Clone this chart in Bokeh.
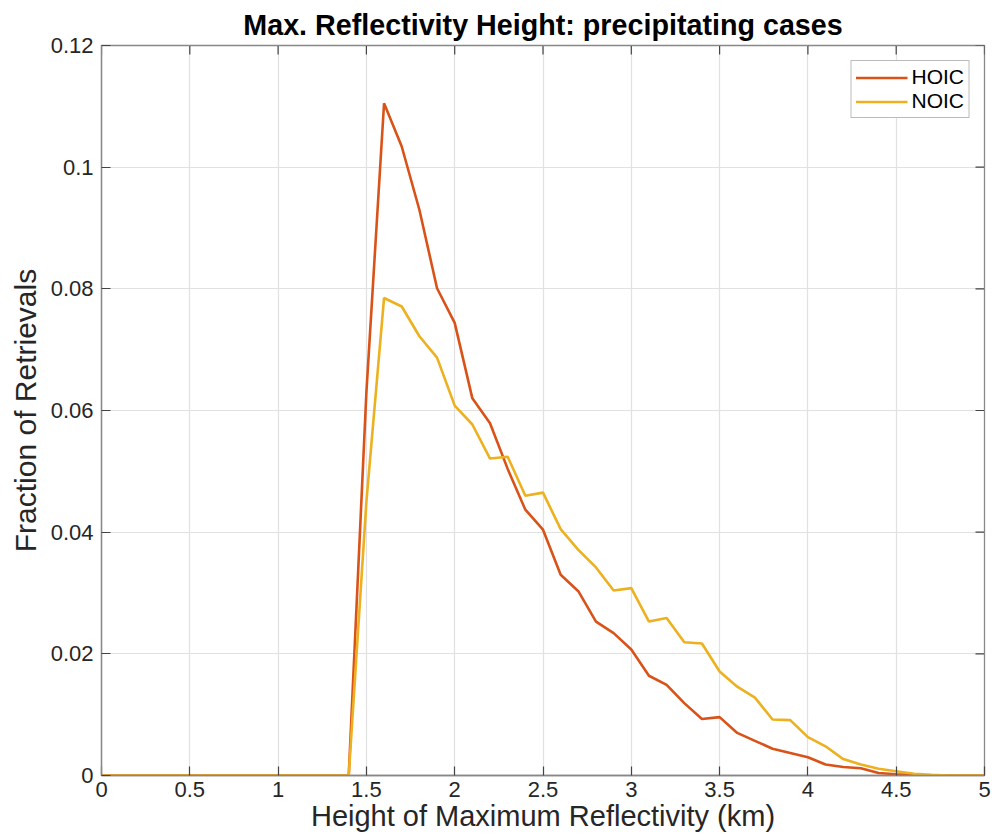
import math
from bokeh.plotting import figure
from bokeh.models import ColumnDataSource, FixedTicker, Range1d, Legend, LegendItem
from bokeh.embed import file_html
from bokeh.resources import INLINE

# ---- data ----
heights = [0.0, 0.1, 0.2, 0.3, 0.4, 0.5, 0.6, 0.7, 0.8, 0.9,
           1.0, 1.1, 1.2, 1.3, 1.4, 1.5, 1.6, 1.7, 1.8, 1.9,
           2.0, 2.1, 2.2, 2.3, 2.4, 2.5, 2.6, 2.7, 2.8, 2.9,
           3.0, 3.1, 3.2, 3.3, 3.4, 3.5, 3.6, 3.7, 3.8, 3.9,
           4.0, 4.1, 4.2, 4.3, 4.4, 4.5, 4.6, 4.7, 4.8, 4.9, 5.0]
hoic = [0, 0, 0, 0, 0, 0, 0, 0, 0, 0,
        0, 0, 0, 0, 0, 0.063, 0.1105, 0.1034, 0.0930, 0.0801,
        0.0744, 0.0620, 0.0579, 0.0504, 0.0437, 0.0404, 0.0330, 0.0303, 0.0253, 0.0234,
        0.0207, 0.0164, 0.0149, 0.0119, 0.0093, 0.0096, 0.0070, 0.0057, 0.0044, 0.0037,
        0.0030, 0.0018, 0.0014, 0.0012, 0.0004, 0.0002, 0.0001, 0, 0, 0, 0]
noic = [0, 0, 0, 0, 0, 0, 0, 0, 0, 0,
        0, 0, 0, 0, 0, 0.045, 0.0785, 0.0771, 0.0722, 0.0687,
        0.0608, 0.0577, 0.0521, 0.0524, 0.0460, 0.0465, 0.0405, 0.0371, 0.0342, 0.0304,
        0.0308, 0.0253, 0.0259, 0.0219, 0.0217, 0.0171, 0.0146, 0.0128, 0.0092, 0.0091,
        0.0063, 0.0048, 0.0027, 0.0018, 0.0011, 0.0007, 0.0003, 0.0001, 0, 0, 0]
series_names = ["HOIC", "NOIC"]
x_ticks = [0, 0.5, 1, 1.5, 2, 2.5, 3, 3.5, 4, 4.5, 5]
x_tick_labels = ["0", "0.5", "1", "1.5", "2", "2.5", "3", "3.5", "4", "4.5", "5"]
y_ticks = [0, 0.02, 0.04, 0.06, 0.08, 0.1, 0.12]
y_tick_labels = ["0", "0.02", "0.04", "0.06", "0.08", "0.1", "0.12"]
title_text = "Max. Reflectivity Height: precipitating cases"
x_label = "Height of Maximum Reflectivity (km)"
y_label = "Fraction of Retrievals"

FONT = "Liberation Sans"
C_HOIC = "#D95319"
C_NOIC = "#EDB120"
X_MIN, X_MAX = x_ticks[0], x_ticks[-1]
Y_MIN, Y_MAX = y_ticks[0], y_ticks[-1]

src = ColumnDataSource(dict(x=heights, hoic=hoic, noic=noic))

p = figure(width=996, height=839, output_backend="svg", toolbar_location=None,
           x_range=Range1d(X_MIN, X_MAX), y_range=Range1d(Y_MIN, Y_MAX),
           min_border_left=101, min_border_right=12, min_border_top=45, min_border_bottom=64,
           background_fill_color="white", border_fill_color="white")

p.title.text = title_text
p.title.text_font = FONT
p.title.text_font_size = "28.7px"
p.title.text_font_style = "bold"
p.title.text_color = "#000000"
p.title.align = "center"
p.title.standoff = 9

p.outline_line_color = "#888888"
p.outline_line_width = 1.3

def style_axis(ax):
    ax.axis_line_color = "#888888"
    ax.axis_line_width = 1.3
    ax.major_tick_line_color = "#444444"
    ax.major_tick_line_width = 1.2
    ax.major_tick_in = 9
    ax.major_tick_out = 0
    ax.minor_tick_line_color = None
    ax.major_label_text_font = FONT
    ax.major_label_text_color = "#262626"
    ax.major_label_text_font_size = "22px"
    ax.axis_label_text_font = FONT
    ax.axis_label_text_font_style = "normal"
    ax.axis_label_text_color = "#262626"

for ax in p.xaxis:
    ax.ticker = FixedTicker(ticks=x_ticks)
    ax.major_label_overrides = {float(t): l for t, l in zip(x_ticks, x_tick_labels)}
    style_axis(ax)
    ax.major_label_standoff = 6
    ax.axis_label = x_label
    ax.axis_label_text_font_size = "29px"
    ax.axis_label_standoff = 0

for ax in p.yaxis:
    ax.ticker = FixedTicker(ticks=y_ticks)
    ax.major_label_overrides = {float(t): l for t, l in zip(y_ticks, y_tick_labels)}
    style_axis(ax)
    ax.major_label_standoff = 8
    ax.axis_label = y_label
    ax.axis_label_text_font_size = "30px"
    ax.axis_label_standoff = 6

# inward tick marks on the top and right edges of the box
p.ray(x=x_ticks, y=[Y_MAX] * len(x_ticks), length=9, length_units="screen",
      angle=-math.pi / 2, line_color="#444444", line_width=1.2)
p.ray(x=[X_MAX] * len(y_ticks), y=y_ticks, length=9, length_units="screen",
      angle=math.pi, line_color="#444444", line_width=1.2)

p.xgrid.ticker = FixedTicker(ticks=x_ticks)
p.ygrid.ticker = FixedTicker(ticks=y_ticks)
for g in (p.xgrid, p.ygrid):
    g.grid_line_color = "#e1e1e1"
    g.grid_line_width = 1.2

r1 = p.line("x", "hoic", source=src, line_color=C_HOIC, line_width=2.6)
r2 = p.line("x", "noic", source=src, line_color=C_NOIC, line_width=2.6)

legend = Legend(items=[LegendItem(label=series_names[0], renderers=[r1]),
                       LegendItem(label=series_names[1], renderers=[r2])],
                location="top_right")
legend.margin = 15
legend.padding = 4
legend.spacing = 0
legend.glyph_width = 52
legend.glyph_height = 23
legend.label_height = 23
legend.label_standoff = 4
legend.label_text_font = FONT
legend.label_text_font_size = "21px"
legend.label_text_color = "#000000"
legend.border_line_color = "#777777"
legend.border_line_width = 1.3
legend.background_fill_color = "white"
legend.background_fill_alpha = 1.0
p.add_layout(legend, "center")

open("out.html", "w").write(file_html(p, INLINE))
